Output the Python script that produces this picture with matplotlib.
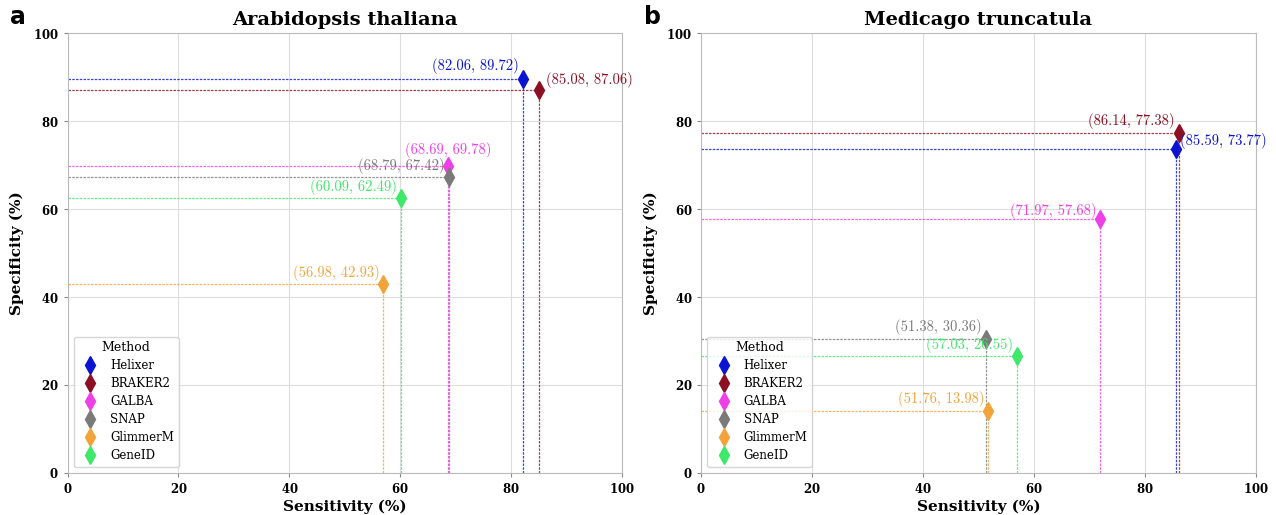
import matplotlib.pyplot as plt

methods = ["Helixer", "BRAKER2", "GALBA", "SNAP", "GlimmerM", "GeneID"]
colors = ["#0a14d2", "#8c0f23", "#ee3fe8", "#7a7a7a", "#f2a43a", "#3ee868"]

# Arabidopsis thaliana
sens_a = [82.06, 85.08, 68.69, 68.79, 56.98, 60.09]
spec_a = [89.72, 87.06, 69.78, 67.42, 42.93, 62.49]
# Medicago truncatula
sens_b = [85.59, 86.14, 71.97, 51.38, 51.76, 57.03]
spec_b = [73.77, 77.38, 57.68, 30.36, 13.98, 26.55]

# label offsets in points (dx, dy, ha)
offs_a = [(-3, 3, "right"), (5, 2, "left"), (0, 6, "center"),
          (-3, 2, "right"), (-3, 2, "right"), (-3, 2, "right")]
offs_b = [(3, 0, "left"), (-3, 3, "right"), (-3, 0, "right"),
          (-3, 3, "right"), (-3, 3, "right"), (-3, 2, "right")]

plt.rcParams['font.family'] = ['cmr10', 'DejaVu Serif']
plt.rcParams['axes.formatter.use_mathtext'] = True

fig, axes = plt.subplots(1, 2, figsize=(12.76, 5.15), dpi=100)
fig.subplots_adjust(left=0.053, right=0.984, top=0.935, bottom=0.082, wspace=0.143)

panels = [(axes[0], sens_a, spec_a, offs_a, "Arabidopsis thaliana", "a"),
          (axes[1], sens_b, spec_b, offs_b, "Medicago truncatula", "b")]

bold = dict(fontfamily="DejaVu Serif", fontweight="bold")

for ax, sens, spec, offs, title, tag in panels:
    ax.set_axisbelow(True)
    ax.grid(True, color="#dddddd", linewidth=0.8)
    for m, c, x, y, (dx, dy, ha) in zip(methods, colors, sens, spec, offs):
        ax.plot([0, x], [y, y], linestyle=(0, (2, 1)), color=c, linewidth=0.9, alpha=0.8)
        ax.plot([x, x], [0, y], linestyle=(0, (2, 1)), color=c, linewidth=0.9, alpha=0.8)
        ax.plot(x, y, marker="d", markersize=9, color=c, linestyle="none", label=m)
        ax.annotate("({:.2f}, {:.2f})".format(x, y), (x, y), xytext=(dx, dy),
                    textcoords="offset points", ha=ha, va="bottom", color=c, fontsize=10.5)
    ax.set_xlim(0, 100)
    ax.set_ylim(0, 100)
    ax.set_xticks([0, 20, 40, 60, 80, 100])
    ax.set_yticks([0, 20, 40, 60, 80, 100])
    for lab in ax.get_xticklabels() + ax.get_yticklabels():
        lab.set_fontfamily("DejaVu Serif")
        lab.set_fontweight("bold")
        lab.set_fontsize(8.5)
    for s in ax.spines.values():
        s.set_color("#bbbbbb")
    ax.tick_params(length=3, color="#888888")
    ax.set_xlabel("Sensitivity (%)", fontsize=11, labelpad=3, **bold)
    ax.set_ylabel("Specificity (%)", fontsize=11, labelpad=6, **bold)
    ax.set_title(title, fontsize=14, pad=6, **bold)
    leg = ax.legend(title="Method", loc="lower left",
                    prop={"family": "DejaVu Serif", "size": 8.5},
                    title_fontproperties={"family": "DejaVu Serif", "size": 9},
                    borderaxespad=0.5, handletextpad=0.7, labelspacing=0.42)
    fig.text(ax.get_position().x0 - 0.045, 0.99, tag, fontfamily="DejaVu Sans",
             fontweight="bold", fontsize=17, va="top")

fig.savefig("out.png")
